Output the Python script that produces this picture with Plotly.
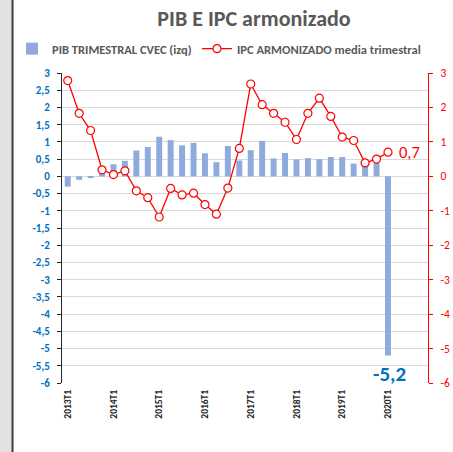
import plotly.graph_objects as go

# ---- data ----
quarters = ["2013T1", "2013T2", "2013T3", "2013T4",
            "2014T1", "2014T2", "2014T3", "2014T4",
            "2015T1", "2015T2", "2015T3", "2015T4",
            "2016T1", "2016T2", "2016T3", "2016T4",
            "2017T1", "2017T2", "2017T3", "2017T4",
            "2018T1", "2018T2", "2018T3", "2018T4",
            "2019T1", "2019T2", "2019T3", "2019T4",
            "2020T1"]
pib = [-0.3, -0.1, -0.05, 0.15, 0.35, 0.45, 0.75, 0.85,
       1.15, 1.05, 0.9, 0.97, 0.67, 0.41, 0.88, 0.46,
       0.76, 1.03, 0.52, 0.68, 0.49, 0.53, 0.5, 0.56,
       0.56, 0.37, 0.4, 0.4, -5.2]
ipc = [2.78, 1.83, 1.33, 0.19, 0.05, 0.16, -0.42, -0.62,
       -1.18, -0.35, -0.54, -0.49, -0.82, -1.1, -0.34, 0.81,
       2.68, 2.08, 1.83, 1.57, 1.07, 1.83, 2.27, 1.74,
       1.14, 1.04, 0.39, 0.5, 0.7]
x_labels = ["2013T1", "2014T1", "2015T1", "2016T1", "2017T1", "2018T1", "2019T1", "2020T1"]
left_vals = [3, 2.5, 2, 1.5, 1, 0.5, 0, -0.5, -1, -1.5, -2, -2.5, -3, -3.5, -4, -4.5, -5, -5.5, -6]
left_text = ["3", "2,5", "2", "1,5", "1", "0,5", "0", "-0,5", "-1", "-1,5", "-2", "-2,5",
             "-3", "-3,5", "-4", "-4,5", "-5", "-5,5", "-6"]
right_vals = [3, 2, 1, 0, -1, -2, -3, -4, -5, -6]
right_text = ["3", "2", "1", "0", "-1", "-2", "-3", "-4", "-5", "-6"]
n_slots = 32            # category slots shown on the axis (2013T1 .. 2020T4)
year_bounds = [i - 0.5 for i in range(0, n_slots + 1, 4)]

FONT = "Carlito, Lato, sans-serif"
BLUE_T = "#0070C0"
RED = "#FF0000"
BAR = "#8FAADC"
GRID = "#D9D9D9"

W, H = 453, 452
ML, MR, MT, MB = 62, 25, 73, 69
pw, ph = W - ML - MR, H - MT - MB

fig = go.Figure()
fig.add_trace(go.Bar(
    x=quarters, y=pib, name="PIB TRIMESTRAL CVEC (izq)",
    marker=dict(color=BAR, line=dict(width=0)),
    xaxis="x", yaxis="y", legend="legend",
))
fig.add_trace(go.Scatter(
    x=quarters, y=ipc, name="IPC ARMONIZADO media trimestral",
    mode="lines+markers",
    line=dict(color=RED, width=1.3),
    marker=dict(symbol="circle", size=8, color="white", line=dict(color=RED, width=1.2)),
    xaxis="x", yaxis="y2", legend="legend2",
))

fig.add_annotation(x=quarters[-1], y=pib[-1], xref="x", yref="y", text="<b>-5,2</b>",
                   showarrow=False, yshift=-19, xshift=2,
                   font=dict(family=FONT, size=21, color=BLUE_T))
fig.add_annotation(x=quarters[-1], y=ipc[-1], xref="x", yref="y2", text="0,7",
                   showarrow=False, xshift=22, yshift=0,
                   font=dict(family=FONT, size=16.5, color=RED))

# frame decoration on the left edge
fig.add_shape(type="rect", xref="paper", yref="paper",
              x0=(0 - ML) / pw, x1=(11.5 - ML) / pw, y0=-MB / ph, y1=1 + MT / ph,
              fillcolor="#E2E2E2", line=dict(width=0), layer="below")
fig.add_shape(type="line", xref="paper", yref="paper",
              x0=(12.5 - ML) / pw, x1=(12.5 - ML) / pw, y0=-MB / ph, y1=1 + MT / ph,
              line=dict(color="#3A3A3A", width=2))

legend_font = dict(family=FONT, size=12.5, color="#595959", weight="bold")
fig.update_layout(
    width=W, height=H,
    margin=dict(l=ML, r=MR, t=MT, b=MB, pad=0, autoexpand=False),
    paper_bgcolor="white", plot_bgcolor="white",
    font=dict(family=FONT, color="#595959"),
    bargap=0.48,
    showlegend=True,
    title=dict(text="PIB E IPC armonizado", xref="container", yref="container",
               x=254 / W, y=1 - 18 / H, xanchor="center", yanchor="middle",
               font=dict(family=FONT, size=22, color="#595959", weight="bold")),
    legend=dict(orientation="h", xref="container", yref="container",
                x=12 / W, y=1 - 49 / H, xanchor="left", yanchor="middle",
                font=legend_font, itemwidth=30, bgcolor="rgba(0,0,0,0)"),
    legend2=dict(orientation="h", xref="container", yref="container",
                 x=197 / W, y=1 - 49 / H, xanchor="left", yanchor="middle",
                 font=legend_font, itemwidth=30, bgcolor="rgba(0,0,0,0)"),
    xaxis=dict(
        type="category", range=[-0.5, n_slots - 0.5],
        tickmode="array", tickvals=x_labels, ticktext=x_labels,
        tickangle=-90, ticks="", showgrid=False, showline=False, zeroline=False,
        ticklabelstandoff=4,
        tickfont=dict(family=FONT, size=9.5, color="#262626", weight="bold"),
    ),
    xaxis2=dict(
        overlaying="x", anchor="free", position=6 / 9, side="bottom",
        type="linear", range=[-0.5, n_slots - 0.5],
        tickmode="array", tickvals=year_bounds, showticklabels=False,
        ticks="outside", ticklen=4, tickcolor="#404040", tickwidth=1,
        showline=True, linecolor="#404040", linewidth=1,
        showgrid=True, gridcolor=GRID, gridwidth=1, zeroline=False,
        layer="below traces",
    ),
    yaxis=dict(
        range=[-6, 3], tickmode="array", tickvals=left_vals, ticktext=left_text,
        showgrid=True, gridcolor=GRID, gridwidth=1, zeroline=False,
        showline=True, linecolor="#262626", linewidth=1,
        ticks="outside", ticklen=4, tickcolor="#262626",
        ticklabelstandoff=5,
        tickfont=dict(family=FONT, size=11, color=BLUE_T, weight="bold"),
    ),
    yaxis2=dict(
        range=[-6, 3], overlaying="y", side="right", anchor="x",
        tickmode="array", tickvals=right_vals, ticktext=right_text,
        showgrid=False, zeroline=False,
        showline=True, linecolor=RED, linewidth=1.2,
        ticks="outside", ticklen=4, tickcolor=RED,
        ticklabelstandoff=5,
        tickfont=dict(family=FONT, size=11.5, color=RED),
    ),
)

fig.write_html("out.html", config={"displayModeBar": False},
               post_script="document.body.style.margin='0';document.body.style.padding='0';")
